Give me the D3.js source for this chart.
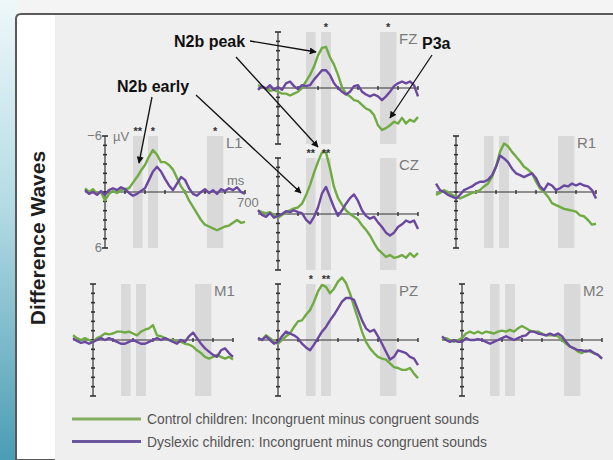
<!DOCTYPE html>
<html><head><meta charset="utf-8">
<script src="https://cdn.jsdelivr.net/npm/d3@7"></script>
<style>html,body{margin:0;padding:0;background:#fff}svg{display:block}</style>
</head><body>
<svg id="chart" width="613" height="460"></svg>
<script>
// ---------- DATA ----------
const times = d3.range(-100, 701, 20); // sample grid (ms)
const xTicks = [0, 100, 200, 300, 400, 500, 600, 700];
const yTicks = [-6, -5, -4, -3, -2, -1, 0, 1, 2, 3, 4, 5, 6];
const bandWindows = [[140, 188], [215, 265], [510, 592]];
const channels = ["FZ", "L1", "CZ", "R1", "M1", "PZ", "M2"];

const controlFZ = [-0.3,-0.1,0.0,0.3,0.2, 0.4,0.6,0.6,0.8,0.6, 0.4,0.0,-0.7,-1.4,-2.3, -3.5,-4.3,-4.4,-3.3,-2.5, -1.4,-0.1,0.6,0.9,1.3, 1.4,1.8,2.2,2.4,2.9, 4.0,4.5,4.3,4.0,3.6, 3.8,3.2,3.8,3.4,3.6, 3.1];
const dyslexicFZ = [0.2,-0.2,0.1,-0.3,0.2, -0.1,0.2,-0.5,-0.7,-0.2, 0.1,-0.3,-0.2,-0.3,-0.9, -1.4,-1.9,-1.9,-1.4,-0.5, 0.0,0.4,0.7,0.4,-0.2, -0.3,0.4,0.7,0.9,0.7, 0.9,1.3,0.9,0.4,-0.2, -0.5,-0.7,-0.5,-0.7,-0.3, 0.9];
const controlL1 = [-0.4,0.0,-0.3,0.2,0.0, 0.9,0.2,-0.1,0.1,-0.2, -0.3,-0.4,-1.0,-1.6,-2.3, -2.9,-3.8,-4.5,-4.0,-3.2, -3.2,-2.9,-2.4,-1.5,-0.6, 0.0,0.9,1.6,2.3,3.0, 3.5,3.7,3.9,4.1,3.9, 3.7,3.6,3.3,3.0,3.3, 3.2];
const dyslexicL1 = [-0.2,0.2,0.0,0.3,-0.1, 0.3,-0.2,-0.4,-0.2,-0.5, -0.3,0.1,0.4,0.2,-0.1, -0.4,-1.3,-2.2,-2.7,-2.2, -1.4,-0.7,-0.2,-0.9,-1.6, -1.3,-0.4,0.2,0.4,0.0, -0.3,0.1,-0.2,0.2,-0.3, -0.1,-0.4,-0.2,-0.5,0.0, 0.2];
const controlCZ = [-0.4,-0.2,-0.1,-0.2,0.1, 0.4,0.1,-0.2,-0.4,-0.6, -0.7,-1.1,-2.0,-3.1,-4.4, -5.6,-6.6,-6.6,-4.9,-2.9, -1.7,-1.0,-0.4,0.0,0.3, 0.6,1.2,1.7,2.3,3.1, 3.8,4.2,4.6,4.4,4.7, 4.6,4.4,4.7,4.2,4.6, 4.2];
const dyslexicCZ = [-0.4,0.1,0.3,-0.1,0.4, 0.2,0.0,-0.3,-0.2,-0.4, -0.2,-0.1,0.6,1.0,0.3, -0.7,-2.2,-2.9,-1.8,-0.7, 0.2,-0.4,-1.1,-1.7,-2.1, -1.4,-0.4,0.2,0.5,0.3, 0.9,1.4,2.0,2.3,2.0, 1.4,1.1,0.7,0.9,0.7, 1.6];
const controlR1 = [0.3,0.1,-0.2,0.0,0.3, 0.5,0.7,0.5,0.3,0.1, 0.0,-0.2,-0.6,-0.9,-1.6, -2.7,-4.3,-5.2,-4.9,-4.3, -3.8,-3.3,-2.7,-2.4,-2.0, -1.1,-0.4,0.0,0.5,1.2, 1.4,1.6,1.8,1.9,2.0, 2.1,2.5,2.6,3.0,3.5, 3.4];
const dyslexicR1 = [-0.9,-0.2,0.0,0.3,0.5, 0.7,0.3,-0.2,-0.4,-0.6, -0.9,-1.1,-1.1,-1.3,-1.8, -2.7,-3.9,-3.6,-3.2,-2.5, -2.0,-1.8,-1.6,-1.8,-2.0, -1.5,-0.6,-0.2,-0.9,-0.7, -0.2,-0.4,-0.7,-0.6,-0.9, -0.7,-0.9,-0.7,-0.6,-0.2, 0.7];
const controlM1 = [-0.5,-0.2,0.0,-0.2,0.0, 0.2,-0.2,-0.4,-0.7,-0.6, -0.7,-0.9,-0.9,-0.8,-0.9, -0.7,-0.5,-0.9,-1.1,-1.25, -1.6,-0.5,-0.4,-0.2,0.0, 0.0,0.2,0.2,0.4,0.5, 0.7,1.1,1.4,1.8,2.0, 1.8,1.6,1.8,2.0,1.8, 2.1];
const dyslexicM1 = [-0.2,0.1,0.3,0.2,0.4, 0.2,0.0,-0.2,0.0,-0.2, 0.0,0.2,0.4,0.4,0.2, 0.0,0.2,0.4,0.4,0.2, 0.0,-0.2,0.0,-0.2,0.0, 0.2,0.4,0.0,0.2,-0.4, -0.8,-0.2,0.4,0.9,1.25, 1.6,1.8,1.1,0.9,1.4, 1.8];
const controlPZ = [-0.2,0.0,-0.5,-0.2,0.2, 0.4,0.0,-0.4,-0.7,-1.4, -2.0,-2.1,-2.7,-3.2,-4.1, -5.2,-5.9,-5.7,-5.0,-5.5, -6.25,-6.7,-6.1,-5.0,-3.6, -2.3,-0.9,0.2,0.9,1.4, 1.8,2.0,2.1,2.5,2.9, 3.0,3.2,3.2,3.0,3.6, 4.1];
const dyslexicPZ = [-0.2,0.0,-0.4,0.0,0.4, 0.2,-0.4,-0.9,-0.7,-0.5, -0.2,0.4,0.8,1.1,0.5, -0.2,-0.9,-1.4,-2.1,-2.7, -3.4,-4.1,-4.5,-4.5,-4.3, -3.2,-2.1,-1.25,-0.9,-1.1, -0.4,0.4,1.25,2.1,1.8, 1.1,1.25,1.4,1.8,2.0, 2.7];
const controlM2 = [0.0,-0.2,0.0,0.2,0.0, -0.2,-0.7,-0.9,-0.7,-0.9, -0.7,-0.9,-0.8,-0.7,-0.9, -1.0,-0.9,-1.1,-0.9,-1.25, -1.5,-1.25,-1.0,-0.9,-0.9, -0.7,-0.5,-0.5,-0.5,-0.4, 0.0,0.4,0.7,0.9,1.25, 1.4,1.1,1.25,1.4,1.6, 2.0];
const dyslexicM2 = [-0.4,0.0,0.2,0.0,0.2, 0.2,-0.2,0.0,0.0,-0.1, 0.0,0.2,0.4,0.2,0.0, -0.2,-0.4,-0.2,0.0,-0.2, -0.4,-0.5,-0.9,-0.9,-0.7, -0.6,-0.5,-0.7,-0.5,-0.7, -0.4,0.2,0.7,0.9,1.1, 1.1,1.25,1.1,1.4,1.6, 2.0];

const starsFZ = ["", "*", "*"];
const starsL1 = ["**", "*", "*"];
const starsCZ = ["**", "**", ""];
const starsPZ = ["*", "**", ""];
const starsNone = ["", "", ""];

const legendLabels = ["Control children: Incongruent minus congruent sounds",
                      "Dyslexic children: Incongruent minus congruent sounds"];
const sideTitle = "Difference Waves";

// ---------- LAYOUT / STYLE ----------
const series = {
  FZ: {c: controlFZ, d: dyslexicFZ, s: starsFZ},
  L1: {c: controlL1, d: dyslexicL1, s: starsL1},
  CZ: {c: controlCZ, d: dyslexicCZ, s: starsCZ},
  R1: {c: controlR1, d: dyslexicR1, s: starsNone},
  M1: {c: controlM1, d: dyslexicM1, s: starsNone},
  PZ: {c: controlPZ, d: dyslexicPZ, s: starsPZ},
  M2: {c: controlM2, d: dyslexicM2, s: starsNone}
};
const layout = {
  FZ: {ax: 278, base: 88}, L1: {ax: 105, base: 192}, CZ: {ax: 278, base: 214},
  R1: {ax: 456, base: 192}, M1: {ax: 93, base: 340}, PZ: {ax: 278, base: 340},
  M2: {ax: 462, base: 340}
};
const GREEN = "#6fab42", PURPLE = "#6a48a0";
const narrow = "'Liberation Sans Narrow','Arial Narrow','Liberation Sans',Arial,sans-serif";

const svg = d3.select("#chart");

// background
const defs = svg.append("defs");
const grad = defs.append("linearGradient").attr("id", "side").attr("x1", 0).attr("y1", 0).attr("x2", 0).attr("y2", 1);
grad.append("stop").attr("offset", "0").attr("stop-color", "#eef8fa");
grad.append("stop").attr("offset", "0.45").attr("stop-color", "#b3dbe4");
grad.append("stop").attr("offset", "1").attr("stop-color", "#4b9db4");
defs.append("marker").attr("id", "ah").attr("viewBox", "0 0 10 10").attr("refX", 9).attr("refY", 5)
  .attr("markerWidth", 7).attr("markerHeight", 7).attr("markerUnits", "userSpaceOnUse").attr("orient", "auto")
  .append("path").attr("d", "M0,0 L10,5 L0,10 z").attr("fill", "#111");

svg.append("rect").attr("width", 613).attr("height", 460).attr("fill", "#f4f4f4");
svg.append("rect").attr("x", 0).attr("y", 0).attr("width", 17).attr("height", 460).attr("fill", "url(#side)");
svg.append("path").attr("d", "M16,460 L16,19 Q16,14 21,14 L613,14 L613,460 Z")
  .attr("fill", "#ffffff").attr("stroke", "#5a5a5a").attr("stroke-width", 2);
svg.append("rect").attr("x", 55).attr("y", 15).attr("width", 558).attr("height", 445).attr("fill", "#efefef");

svg.append("text").attr("transform", "translate(45,238) rotate(-90)")
  .attr("text-anchor", "middle").attr("font-family", "'Liberation Sans',Arial,sans-serif")
  .attr("font-weight", "bold").attr("font-size", 21).attr("fill", "#1e1e1e").text(sideTitle);

// panels
channels.forEach(ch => {
  const L = layout[ch], S = series[ch];
  const x = d3.scaleLinear().domain([0, 700]).range([L.ax, L.ax + 140]);
  const y = d3.scaleLinear().domain([-6, 6]).range([L.base - 56, L.base + 56]);
  const g = svg.append("g");

  // grey windows
  g.selectAll("rect.band").data(bandWindows).enter().append("rect")
    .attr("x", d => x(d[0])).attr("width", d => x(d[1]) - x(d[0]))
    .attr("y", y(-6)).attr("height", y(6) - y(-6)).attr("fill", "#d9d9d9");

  // axes
  g.append("line").attr("x1", x(-100)).attr("x2", x(700)).attr("y1", y(0)).attr("y2", y(0))
    .attr("stroke", "#333").attr("stroke-width", 1.2);
  g.append("line").attr("x1", x(0)).attr("x2", x(0)).attr("y1", y(-6)).attr("y2", y(6))
    .attr("stroke", "#333").attr("stroke-width", 1.2);
  g.selectAll("line.yt").data(yTicks).enter().append("line")
    .attr("x1", d => x(0) - (Math.abs(d) === 6 ? 3 : 2)).attr("x2", d => x(0) + (Math.abs(d) === 6 ? 3 : 2))
    .attr("y1", d => y(d)).attr("y2", d => y(d)).attr("stroke", "#333").attr("stroke-width", 1.6);
  g.selectAll("line.xt").data(xTicks.slice(1)).enter().append("line")
    .attr("x1", d => x(d)).attr("x2", d => x(d)).attr("y1", y(0) - 2).attr("y2", y(0) + 2)
    .attr("stroke", "#333").attr("stroke-width", 1.4);

  // traces
  const line = d3.line().x((v, i) => x(times[i])).y(v => y(v));
  g.append("path").attr("d", line(S.c)).attr("fill", "none").attr("stroke", GREEN)
    .attr("stroke-width", 2.4).attr("stroke-linejoin", "round");
  g.append("path").attr("d", line(S.d)).attr("fill", "none").attr("stroke", PURPLE)
    .attr("stroke-width", 2.4).attr("stroke-linejoin", "round");

  // significance stars
  g.selectAll("text.star").data(bandWindows).enter().append("text")
    .attr("x", d => (x(d[0]) + x(d[1])) / 2).attr("y", y(-6) - 1)
    .attr("text-anchor", "middle").attr("font-family", "'Liberation Sans',Arial,sans-serif")
    .attr("font-size", 11).attr("font-weight", "bold").attr("fill", "#333")
    .text((d, i) => S.s[i]);

  // channel label
  g.append("text").attr("x", L.ax + 121).attr("y", y(-6) + 12)
    .attr("font-family", narrow).attr("font-size", 15).attr("fill", "#7a7a7a").text(ch);

  if (ch === "L1") {
    const lab = (t, xx, yy, anchor) => g.append("text").attr("x", xx).attr("y", yy)
      .attr("text-anchor", anchor).attr("font-family", narrow).attr("font-size", 13)
      .attr("fill", "#7a7a7a").text(t);
    lab("\u22126", x(0) - 3, y(-6) + 4, "end");
    lab("\u00b5V", x(0) + 8, y(-6) + 5, "start");
    lab("6", x(0) - 3, y(6) + 4, "end");
    lab("ms", x(700) - 18, y(0) - 7, "start");
    lab("700", x(700) - 8, y(0) + 15, "start");
  }
});

// annotations
const ann = svg.append("g");
const bold = (t, xx, yy) => ann.append("text").attr("x", xx).attr("y", yy)
  .attr("font-family", "'Liberation Sans',Arial,sans-serif").attr("font-weight", "bold")
  .attr("font-size", 16).attr("fill", "#111").text(t);
bold("N2b peak", 174, 47);
bold("N2b early", 117, 92);
bold("P3a", 422, 49);
const arrow = (x1, y1, x2, y2) => ann.append("line").attr("x1", x1).attr("y1", y1).attr("x2", x2).attr("y2", y2)
  .attr("stroke", "#111").attr("stroke-width", 1.3).attr("marker-end", "url(#ah)");
arrow(250, 41, 316, 52);
arrow(236, 57, 318, 147);
arrow(152, 97, 139, 163);
arrow(196, 95, 301, 193);
arrow(432, 55, 390, 118);

// legend
const leg = svg.append("g");
[GREEN, PURPLE].forEach((c, i) => {
  const yy = 419 + i * 22.5;
  leg.append("line").attr("x1", 72).attr("x2", 141).attr("y1", yy).attr("y2", yy)
    .attr("stroke", i === 0 ? "#83ad60" : "#6b56a0").attr("stroke-width", 3);
  leg.append("text").attr("x", 147).attr("y", yy + 5).attr("font-family", narrow)
    .attr("font-size", 15).attr("fill", "#555").attr("textLength", i === 0 ? 332 : 340)
    .attr("lengthAdjust", "spacingAndGlyphs").text(legendLabels[i]);
});
</script>
</body></html>
